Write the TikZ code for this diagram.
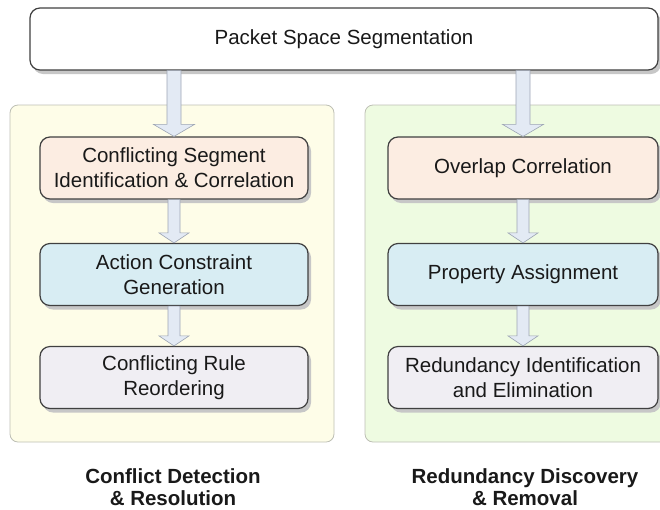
\documentclass[tikz,border=0pt]{standalone}
\usepackage{fontspec}
\setmainfont{Liberation Sans}
\usetikzlibrary{shadows,calc}

\definecolor{panelyellow}{HTML}{FEFDE8}
\definecolor{panelgreen}{HTML}{EEFBE1}
\definecolor{panelline}{HTML}{BDBFB4}
\definecolor{stagepeach}{HTML}{FCEDE2}
\definecolor{stageblue}{HTML}{D8EDF3}
\definecolor{stagegray}{HTML}{F0EEF3}
\definecolor{flowfill}{HTML}{E3EAF4}
\definecolor{flowline}{HTML}{9DA5B4}

% fat arrow: from, to, shaft half width, head half width, head length
\newcommand{\blockarrow}[5]{%
  \filldraw[flow] ($(#1)+(-#3,0)$) -- ($(#2)+(-#3,-#5)$) -- ($(#2)+(-#4,-#5)$) -- (#2)
    -- ($(#2)+(#4,-#5)$) -- ($(#2)+(#3,-#5)$) -- ($(#1)+(#3,0)$) -- cycle;}

\begin{document}
\begin{tikzpicture}[x=1pt,y=-1pt,
    stage/.style={draw=black!75,line width=1.2pt,rounded corners=10pt,
      minimum height=62pt,align=center,text=black!90,
      font=\fontsize{20.5}{25}\selectfont,
      drop shadow={shadow xshift=3pt,shadow yshift=-4pt,fill=black!22,opacity=1}},
    flow/.style={fill=flowfill,draw=flowline,line width=0.6pt},
    panel/.style={draw=panelline,line width=0.8pt,rounded corners=8pt},
    grouplabel/.style={align=center,text=black!90,font=\bfseries\fontsize{20.5}{22.5}\selectfont}]
  \useasboundingbox (0,0) rectangle (660,509);
  % the two groups
  \filldraw[panel,fill=panelyellow] (10,105) rectangle (334,442);
  \filldraw[panel,fill=panelgreen] (365,105) rectangle (672,442);
  \node[stage,fill=white,minimum width=628pt] (pss) at (344,39) {Packet Space Segmentation};
  % conflict side
  \node[stage,fill=stagepeach,minimum width=268pt] (cseg) at (174,168) {Conflicting Segment\\Identification \& Correlation};
  \node[stage,fill=stageblue,minimum width=268pt] (acg) at (174,274.5) {Action Constraint\\Generation};
  \node[stage,fill=stagegray,minimum width=268pt] (crr) at (174,377.5) {Conflicting Rule\\Reordering};
  % redundancy side
  \node[stage,fill=stagepeach,minimum width=270pt] (ovc) at (523,168) {Overlap Correlation};
  \node[stage,fill=stageblue,minimum width=270pt] (pra) at (523,274.5) {Property Assignment};
  \node[stage,fill=stagegray,minimum width=270pt] (rie) at (523,377.5) {Redundancy Identification\\and Elimination};
  \node[grouplabel] (cdr) at (173,487) {Conflict Detection\\\& Resolution};
  \node[grouplabel] (rdr) at (525,487) {Redundancy Discovery\\\& Removal};
  % arrows
  \coordinate (lsrc) at (pss.south -| cseg.north);
  \coordinate (rsrc) at (pss.south -| ovc.north);
  \blockarrow{lsrc}{cseg.north}{7}{20.5}{12}
  \blockarrow{rsrc}{ovc.north}{7}{20.5}{12}
  \blockarrow{cseg.south}{acg.north}{6}{15}{10}
  \blockarrow{acg.south}{crr.north}{6}{15}{10}
  \blockarrow{ovc.south}{pra.north}{6}{15}{10}
  \blockarrow{pra.south}{rie.north}{6}{15}{10}
\end{tikzpicture}
\end{document}
